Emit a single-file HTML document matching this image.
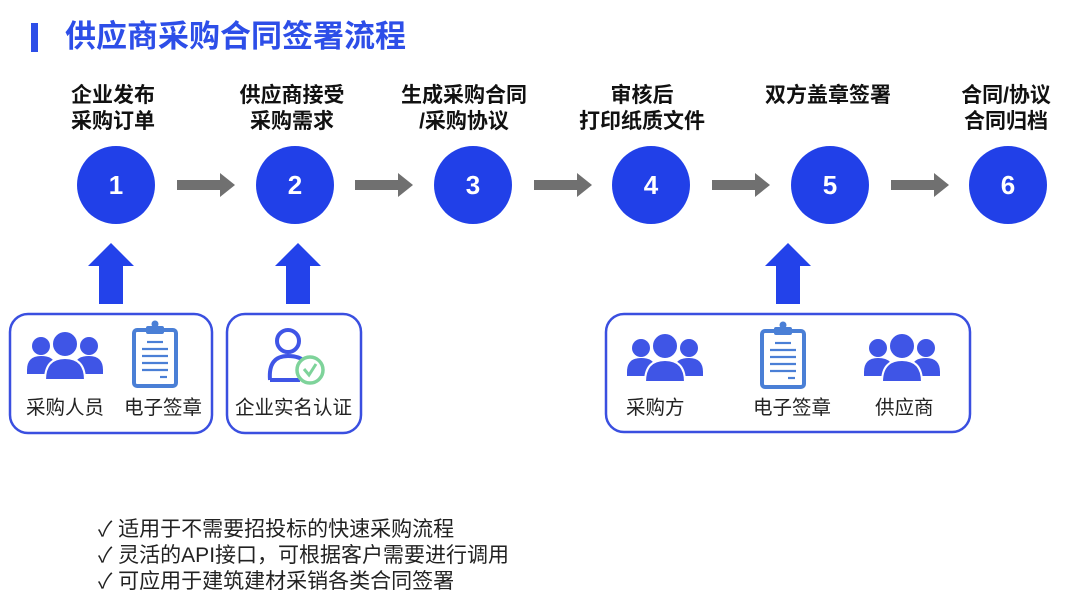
<!DOCTYPE html>
<html><head><meta charset="utf-8"><style>
body{margin:0;background:#fff;}
svg{display:block;font-family:"Liberation Sans","Noto Sans CJK SC",sans-serif;}
</style></head><body>
<svg width="1080" height="607" viewBox="0 0 1080 607" xmlns="http://www.w3.org/2000/svg">
<defs>
<g id="ppl">
 <circle cx="-24" cy="-12" r="9" fill="#3f55e6"/>
 <path d="M-38 12 Q-38 -2 -24 -2 Q-12 -2 -10 6 L-10 16 L-38 16 Z" fill="#3f55e6"/>
 <circle cx="24" cy="-12" r="9" fill="#3f55e6"/>
 <path d="M38 12 Q38 -2 24 -2 Q12 -2 10 6 L10 16 L38 16 Z" fill="#3f55e6"/>
 <circle cx="0" cy="-14" r="13" fill="#3f55e6" stroke="#fff" stroke-width="2"/>
 <path d="M-20 22 Q-20 0 0 0 Q20 0 20 22 Z" fill="#3f55e6" stroke="#fff" stroke-width="2"/>
</g>
<g id="clip">
 <rect x="-21" y="-26" width="42" height="56" rx="3" fill="#fff" stroke="#4a7fd6" stroke-width="4"/>
 <rect x="-9" y="-30" width="18" height="8" rx="2" fill="#4a7fd6"/>
 <circle cx="0" cy="-32" r="3.5" fill="#4a7fd6"/>
 <g stroke="#4a7fd6" stroke-width="2.2">
  <line x1="-8" y1="-14" x2="8" y2="-14"/><line x1="-13" y1="-7" x2="13" y2="-7"/>
  <line x1="-13" y1="0" x2="13" y2="0"/><line x1="-13" y1="7" x2="13" y2="7"/>
  <line x1="-13" y1="14" x2="13" y2="14"/><line x1="5" y1="21" x2="12" y2="21"/>
 </g>
</g>
<g id="rarr"><rect x="0" y="-5" width="44" height="10" fill="#707070"/><polygon points="43,-12 58,0 43,12" fill="#707070"/></g>
<g id="uarr"><polygon points="0,0 23,23 12,23 12,61 -12,61 -12,23 -23,23" fill="#2342ea"/></g>
</defs>
<rect x="31" y="23" width="7" height="29" fill="#2d4ee8"/>
<text x="65" y="47" font-size="31" font-weight="bold" fill="#2d4ee8">供应商采购合同签署流程</text>
<g font-size="21" font-weight="bold" fill="#111" text-anchor="middle">
 <text x="113" y="102">企业发布</text><text x="113" y="128">采购订单</text>
 <text x="292" y="102">供应商接受</text><text x="292" y="128">采购需求</text>
 <text x="464" y="102">生成采购合同</text><text x="464" y="128">/采购协议</text>
 <text x="642" y="102">审核后</text><text x="642" y="128">打印纸质文件</text>
 <text x="828" y="102">双方盖章签署</text>
 <text x="1006" y="102">合同/协议</text><text x="1006" y="128">合同归档</text>
</g>
<g fill="#2140e8">
 <circle cx="116" cy="185" r="39"/><circle cx="295" cy="185" r="39"/><circle cx="473" cy="185" r="39"/>
 <circle cx="651" cy="185" r="39"/><circle cx="830" cy="185" r="39"/><circle cx="1008" cy="185" r="39"/>
</g>
<g font-size="26" font-weight="bold" fill="#fff" text-anchor="middle">
 <text x="116" y="194">1</text><text x="295" y="194">2</text><text x="473" y="194">3</text>
 <text x="651" y="194">4</text><text x="830" y="194">5</text><text x="1008" y="194">6</text>
</g>
<use href="#rarr" x="177" y="185"/><use href="#rarr" x="355" y="185"/><use href="#rarr" x="534" y="185"/>
<use href="#rarr" x="712" y="185"/><use href="#rarr" x="891" y="185"/>
<use href="#uarr" x="111" y="243"/><use href="#uarr" x="298" y="243"/><use href="#uarr" x="788" y="243"/>
<g fill="none" stroke="#3a4fe0" stroke-width="2.5">
 <rect x="10" y="314" width="202" height="119" rx="18"/>
 <rect x="227" y="314" width="134" height="119" rx="18"/>
 <rect x="606" y="314" width="364" height="118" rx="18"/>
</g>
<use href="#ppl" x="65" y="358"/><use href="#clip" x="155" y="356"/>
<use href="#ppl" x="665" y="360"/><use href="#clip" x="783" y="357"/><use href="#ppl" x="902" y="360"/>
<g>
 <circle cx="288" cy="341" r="11" fill="none" stroke="#3f55e6" stroke-width="4"/>
 <path d="M270 380 Q268 356 288 356 Q300 356 305 362" fill="none" stroke="#3f55e6" stroke-width="4"/>
 <line x1="270" y1="380" x2="300" y2="380" stroke="#3f55e6" stroke-width="4"/>
 <circle cx="310" cy="370" r="13" fill="#fff" stroke="#7ed39a" stroke-width="3.5"/>
 <path d="M304 369 L309 375 L316 364" fill="none" stroke="#7ed39a" stroke-width="3"/>
</g>
<g font-size="19.5" fill="#222">
 <text x="26" y="414">采购人员</text><text x="124" y="414">电子签章</text>
 <text x="235" y="414">企业实名认证</text>
 <text x="626" y="414">采购方</text><text x="753" y="414">电子签章</text><text x="875" y="414">供应商</text>
</g>
<g font-size="21" fill="#222">
 <text x="98" y="536">✓ 适用于不需要招投标的快速采购流程</text>
 <text x="98" y="562">✓ 灵活的API接口，可根据客户需要进行调用</text>
 <text x="98" y="588">✓ 可应用于建筑建材采销各类合同签署</text>
</g>
</svg>
</body></html>
